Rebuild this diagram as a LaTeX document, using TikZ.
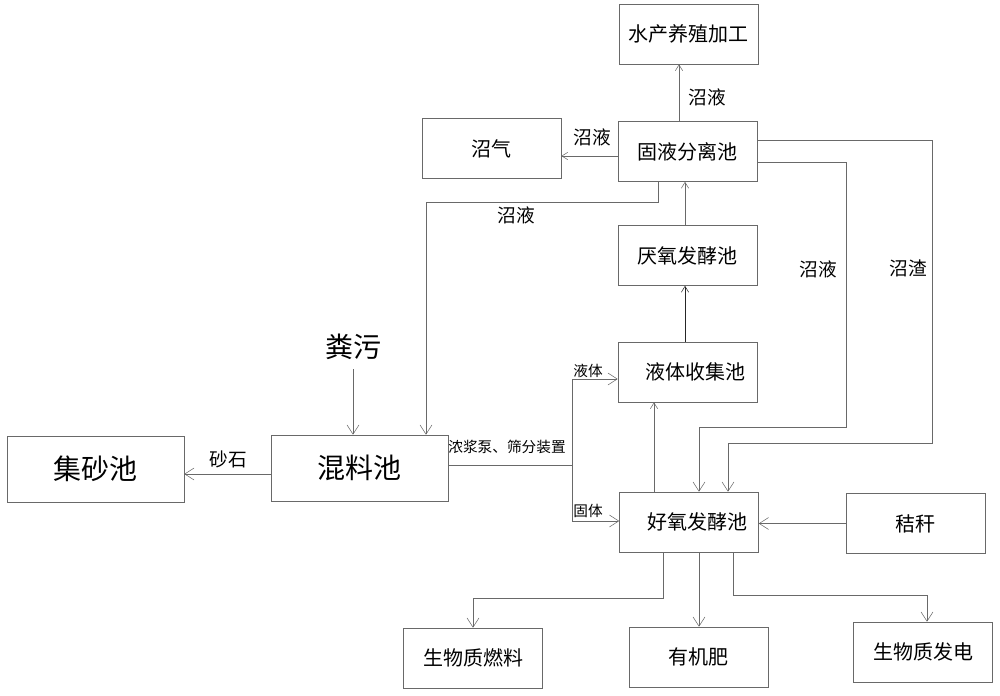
\documentclass[tikz,border=0pt]{standalone}
\usepackage{fontspec}
\newfontfamily\cjk{Noto Sans CJK SC}
\usetikzlibrary{arrows.meta}
\usetikzlibrary{calc}
\definecolor{ln}{RGB}{105,105,105}

\begin{document}
\begin{tikzpicture}[x=0.75pt,y=-0.75pt,
  box/.style={draw=ln, minimum width=104.25pt, minimum height=45pt, inner sep=0pt, font=\cjk\fontsize{15}{15}\selectfont},
  bigbox/.style={box, minimum width=132.75pt, minimum height=49.5pt, font=\cjk\fontsize{21}{21}\selectfont},
  lbl/.style={inner sep=0pt, font=\cjk\fontsize{14}{14}\selectfont},
  small/.style={inner sep=0pt, font=\cjk\fontsize{11}{11}\selectfont},
  arr/.style={draw=ln, -{Straight Barb[length=7pt,width=9pt]}},
  arrs/.style={draw=ln, -{Straight Barb[length=4.5pt,width=5.5pt]}}]
\useasboundingbox (0,0) rectangle (1000,696);

% boxes
\node[box] (shuichan) at (688.5,34) {水产养殖加工};
\node[box] (zhaoqi) at (491.5,148.5) {沼气};
\node[box] (guye) at (687.5,151.5) {固液分离池};
\node[box] (yanyang) at (687.5,255.5) {厌氧发酵池};
\node[box] (yeti) at (687.5,372) {\hspace*{12pt}液体收集池};
\node[box] (haoyang) at (689,522) {\hspace*{12pt}好氧发酵池};
\node[box] (jiegan) at (915.5,523.5) {秸秆};
\node[bigbox] (jisha) at (95.5,469) {集砂池};
\node[bigbox] (hunliao) at (359.5,468) {混料池};
\node[box] (ranliao) at (473,658) {生物质燃料};
\node[box] (feiliao) at (698.5,657) {有机肥};
\node[box] (fadian) at (923,652) {生物质发电};
\node[lbl, font=\cjk\fontsize{21}{21}\selectfont] (fenwu) at (353,347) {粪污};

\coordinate (yeline) at (846,427);
\coordinate (zhaline) at (932,443);
\coordinate (fen) at (572,465);

% connectors
\draw[arrs] ($(guye.north)+(-8.5,0)$) coordinate (p) -- (p |- shuichan.south);
\draw[arrs] ($(guye.west)+(0,4.5)$) coordinate (p) -- (p -| zhaoqi.east);
\draw[arr] ($(guye.south)+(-29.5,0)$) -- ++(0,20) -| ($(hunliao.north)+(66.5,0)$);
\draw[arrs] ($(yanyang.north)+(-2.5,0)$) coordinate (p) -- (p |- guye.south);
\draw[arrs, draw=black!85] ($(yeti.north)+(-2.5,0)$) coordinate (p) -- (p |- yanyang.south);
\draw[arr] ($(guye.east)+(0,10.5)$) -| (yeline) -| ($(haoyang.north)+(10,0)$);
\draw[arr] ($(guye.east)+(0,-11.5)$) -| (zhaline) -| ($(haoyang.north)+(39,0)$);
\draw[ln] ($(hunliao.east)+(0,-3)$) -- (fen);
\draw[arr] (fen) |- ($(yeti.west)+(0,7)$);
\draw[arr] (fen) |- ($(haoyang.west)+(0,-1)$);
\draw[arrs] ($(haoyang.north)+(-35,0)$) coordinate (p) -- (p |- yeti.south);
\draw[arr] (jiegan.west) -- (jiegan.west -| haoyang.east);
\draw[arr] ($(fenwu.south)+(0,9)$) coordinate (p) -- (p |- hunliao.north);
\draw[arr] ($(hunliao.west)+(0,6)$) coordinate (p) -- (p -| jisha.east);
\draw[arr] ($(haoyang.south)+(-26,0)$) -- ++(0,46) -| (ranliao.north);
\draw[arr] ($(haoyang.south)+(10,0)$) coordinate (p) -- (p |- feiliao.north);
\draw[arr] ($(haoyang.south)+(44,0)$) -- ++(0,43) -| ($(fadian.north)+(4,0)$);

% labels
\node[lbl] (l-shuichan) at (707,97) {沼液};
\node[lbl] (l-zhaoqi) at (592,137) {沼液};
\node[lbl] (l-hunliao) at (516,215) {沼液};
\node[lbl] (l-ye) at (818,269) {沼液};
\node[lbl] (l-zha) at (908,268) {沼渣};
\node[lbl] (l-sha) at (228,459) {砂石};
\node[small] (l-beng) at (507,447) {浓浆泵、筛分装置};
\node[small] (l-yeti) at (588,371) {液体};
\node[small] (l-guti) at (588,511) {固体};
\end{tikzpicture}
\end{document}
